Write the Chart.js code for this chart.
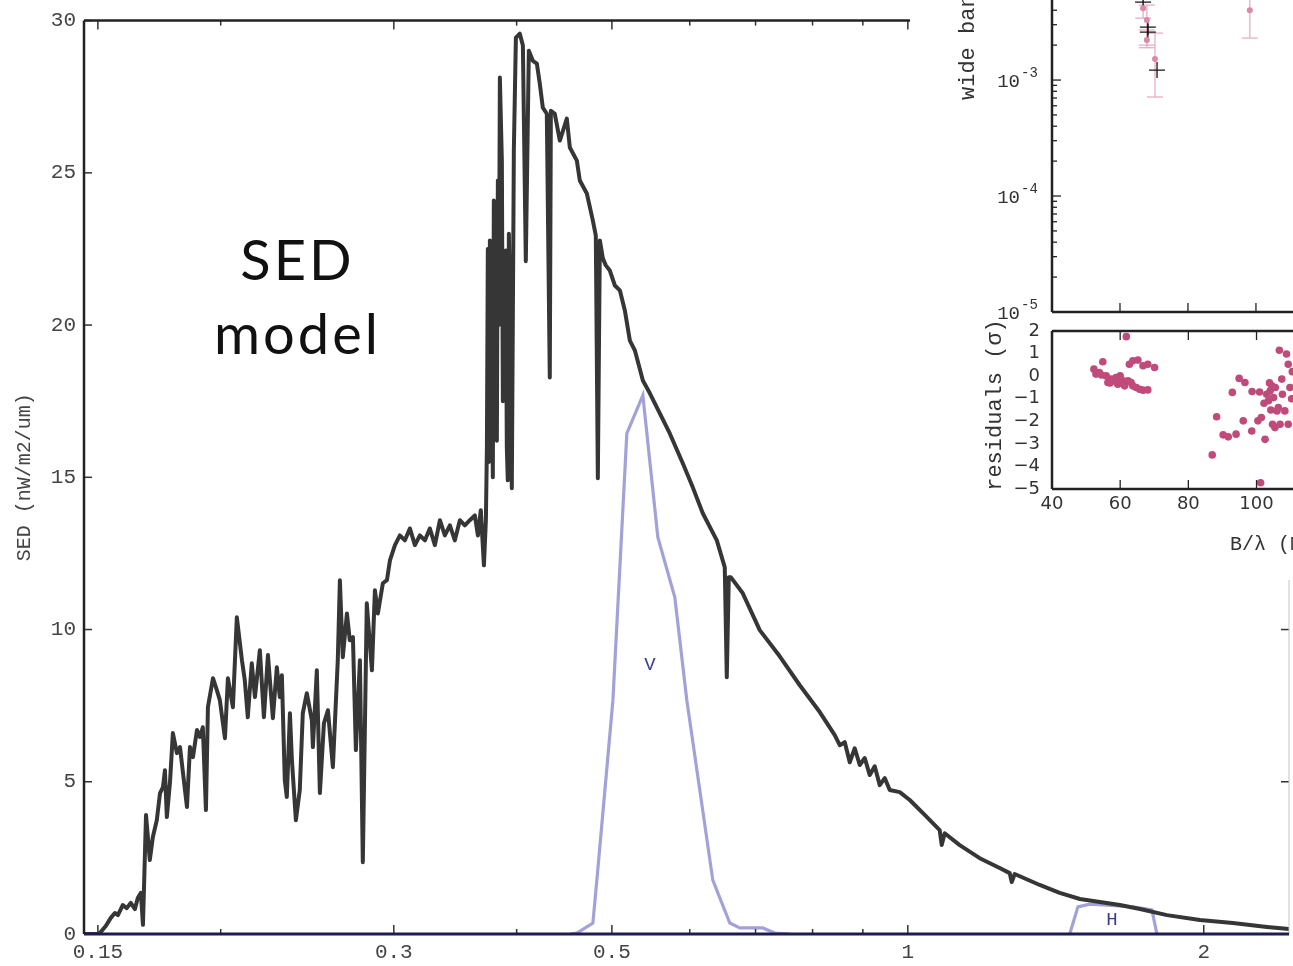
<!DOCTYPE html>
<html>
<head>
<meta charset="utf-8">
<title>SED model</title>
<script src="https://cdn.jsdelivr.net/npm/chart.js@4.4.1/dist/chart.umd.min.js"></script>
<style>
  html, body { margin: 0; padding: 0; background: #fff; overflow: hidden; }
  #page { position: relative; width: 1293px; height: 966px; }
  canvas { position: absolute; display: block; }
  #inset { position: absolute; left: 910px; top: 0; width: 383px; height: 580px; background: #fff; }
  #caption { position: absolute; left: 180px; top: 222px; width: 235px; text-align: center;
             font: 400 56px Lato, sans-serif; letter-spacing: 3px; line-height: 74px; color: #111; }
</style>
</head>
<body>
<div id="page">
  <canvas id="sedChart" width="1293" height="966" style="left:0;top:0"></canvas>
  <div id="caption">SED<br>model</div>
  <div id="inset">
    <canvas id="visChart" width="383" height="322" style="left:0;top:0"></canvas>
    <canvas id="resChart" width="383" height="290" style="left:0;top:290px"></canvas>
  </div>
</div>
<script>
// model spectrum, wavelength in um, flux in nW/m2/um
const sedWave = [0.1452,0.1500,0.1507,0.1528,0.1546,0.1561,0.1572,0.1590,0.1605,0.1620,
  0.1636,0.1647,0.1659,0.1667,0.1679,0.1694,0.1706,0.1722,0.1735,0.1747,
  0.1755,0.1763,0.1776,0.1788,0.1805,0.1818,0.1848,0.1861,0.1874,0.1892,
  0.1905,0.1918,0.1932,0.1941,0.1964,0.1982,0.1996,0.2020,0.2034,0.2058,
  0.2077,0.2102,0.2116,0.2131,0.2151,0.2167,0.2192,0.2213,0.2234,0.2260,
  0.2281,0.2297,0.2308,0.2324,0.2335,0.2352,0.2363,0.2385,0.2407,0.2424,
  0.2447,0.2476,0.2482,0.2505,0.2523,0.2547,0.2571,0.2601,0.2631,0.2644,
  0.2662,0.2688,0.2706,0.2726,0.2745,0.2771,0.2790,0.2816,0.2850,0.2870,
  0.2890,0.2924,0.2952,0.2973,0.3008,0.3043,0.3079,0.3115,0.3152,0.3189,
  0.3227,0.3264,0.3303,0.3342,0.3381,0.3421,0.3461,0.3502,0.3543,0.3585,
  0.3627,0.3653,0.3678,0.3705,0.3722,
  0.3731,0.3739,0.3748,0.3757,0.3766,0.3774,0.3783,0.3792,0.3801,0.3810,
  0.3819,0.3828,0.3837,0.3846,0.3864,0.3873,0.3882,0.3900,0.3909,0.3918,
  0.3928,0.3937,0.3946,0.3955,0.3974,0.3993,
  0.4030,0.4059,0.4087,0.4116,0.4155,0.4194,0.4223,0.4253,0.4293,0.4323,
  0.4334,0.4374,0.4426,0.4499,0.4531,0.4606,0.4638,0.4715,0.4782,0.4815,
  0.4838,0.4861,0.4895,0.4929,0.4976,0.5035,0.5094,0.5154,0.5215,0.5276,
  0.5376,0.5465,0.5594,0.5726,0.5903,0.6043,0.6186,0.6393,0.6513,0.6544,
  0.6575,0.6605,0.6794,0.7069,0.7408,0.7764,0.8136,0.8427,0.8526,0.8627,
  0.8728,0.8831,0.8935,0.9040,0.9147,0.9254,0.9363,0.9474,0.9585,0.9812,
  1.0045,1.0403,1.0775,1.0826,1.0902,1.1292,1.1834,1.2401,1.2695,1.2755,
  1.2844,1.3620,1.4273,1.4965,1.5683,1.6434,1.7223,1.8347,1.9821,2.1411,
  2.3195,2.442];
const sedFlux = [0,0,0.03,0.26,0.53,0.69,0.62,0.95,0.85,1.02,
  0.82,1.18,1.35,0.30,3.91,2.43,3.18,3.74,4.63,4.82,
  5.38,3.84,4.99,6.60,5.94,6.14,4.17,6.14,5.81,6.70,
  6.47,6.79,4.07,7.45,8.40,8.01,7.68,6.43,8.40,7.45,
  10.40,8.99,8.34,7.12,8.89,7.78,9.32,7.12,9.16,7.09,
  8.76,7.78,8.50,5.05,4.50,7.25,5.71,3.74,4.73,7.25,
  7.91,7.02,6.14,8.66,4.63,6.92,7.35,5.48,8.99,11.62,
  9.09,10.53,9.65,9.75,6.04,8.99,2.36,10.86,8.66,11.29,
  10.53,11.52,11.62,12.27,12.77,13.09,12.93,13.32,12.77,13.09,
  12.93,13.32,12.77,13.59,13.09,13.42,12.93,13.59,13.42,13.59,
  13.75,13.09,13.92,12.11,13.59,
  16.00,22.50,15.50,22.78,16.50,20.81,15.00,24.09,18.00,22.12,
  16.20,24.75,20.00,28.13,25.40,17.50,20.81,22.45,16.00,14.90,
  23.00,20.81,17.00,14.64,25.73,29.44,
  29.57,29.18,22.10,29.01,28.68,28.59,27.93,27.14,26.94,18.28,
  27.04,26.94,26.06,26.78,25.83,25.40,24.75,24.32,23.43,22.94,
  14.97,22.78,22.19,21.96,21.79,21.30,21.14,20.48,19.49,19.17,
  18.18,17.76,17.10,16.44,15.46,14.67,13.82,12.93,12.04,8.43,
  11.72,11.72,11.19,9.98,9.12,8.17,7.29,6.53,6.20,6.30,
  5.64,6.10,5.55,5.78,5.22,5.51,4.89,5.12,4.73,4.66,
  4.40,3.91,3.41,2.92,3.31,2.92,2.49,2.17,2.00,1.71,
  1.97,1.61,1.35,1.15,1.05,0.95,0.82,0.62,0.46,0.36,
  0.23,0.16];

// filter curves
const vWave = [0.4531,0.4606,0.4782,0.4827,0.5012,0.5178,0.5376,0.5568,0.5794,0.5959,0.6333,0.6590,0.6746,0.7119,0.7322,0.7588];
const vTrans = [0,0.03,0.36,1.77,7.68,16.44,17.69,13.03,11.06,7.68,1.77,0.36,0.20,0.20,0.03,0];
const hWave = [1.4612,1.4895,1.5320,1.5942,1.6943,1.7714,1.7922];
const hTrans = [0,0.89,0.98,0.95,0.89,0.79,0];
const bandNames = ['V', 'H'];
const bandLabelWave = [0.5465, 1.6128];
const bandLabelLevel = [8.83, 0.46];

const xTickValues = [0.15,0.2,0.3,0.4,0.5,0.6,0.7,0.8,0.9,1,2];
const xTickText = ['0.15','','0.3','','0.5','','','','','1','2'];

// visibility panel: pink = data with errors, black crosses = model
const visX = [66.8, 67.9, 67.9, 70.3, 98.2];
const visY = [4.17e-3, 3.29e-3, 2.21e-3, 1.52e-3, 4.0e-3];
const visLo = [3.42e-3, 2.0e-3, 1.9e-3, 7.14e-4, 2.3e-3];
const visHi = [5.5e-3, 4.43e-3, 2.7e-3, 2.54e-3, 6.0e-3];
const modelX = [66.8, 68.2, 68.2, 70.9];
const modelY = [4.7e-3, 2.86e-3, 2.59e-3, 1.22e-3];
const visDecades = [-3, -4, -5];

// residuals in sigma against B/lambda
const resX = [61.8,52.3,54.9,52.9,53.9,55.9,56.4,57.4,58.3,59.3,60.0,60.8,61.3,62.3,63.2,63.7,64.7,65.7,66.7,68.1,
  62.7,63.7,65.2,66.7,68.1,70.1,58.8,57.0,54.5,59.8,
  87.0,88.3,90.2,91.7,94.0,92.9,94.9,96.6,96.1,98.6,98.7,100.9,100.4,101.4,102.5,103.0,103.5,104.0,104.5,105.0,
  105.5,106.0,104.7,105.4,106.7,107.4,106.4,106.9,107.6,108.3,108.8,109.3,109.3,101.2,109.8,110.3,102.2,104.2,103.8,110.5];
const resY = [1.75,0.31,0.64,0.09,0.16,0.01,-0.28,-0.13,-0.21,-0.36,0.01,-0.21,-0.43,-0.21,-0.28,-0.43,-0.50,-0.58,-0.62,-0.61,
  0.53,0.68,0.71,0.46,0.53,0.38,-0.06,-0.30,0.05,-0.15,
  -3.49,-1.80,-2.60,-2.69,-2.57,-0.72,-0.10,-0.28,-1.98,-2.43,-0.68,-0.70,-1.98,-1.83,-2.80,-0.80,-1.09,-0.65,-0.43,-0.95,
  -0.50,-1.54,-2.13,-2.28,1.15,-0.13,-1.39,-2.13,-0.80,-1.54,0.98,0.53,-2.13,-4.72,-0.50,-1.00,-1.20,-1.50,-0.30,0.20];
const resXTicks = [40, 60, 80, 100];
const resYTicks = [-5, -4, -3, -2, -1, 0, 1, 2];

const MONO = '"Liberation Mono", "DejaVu Sans Mono", monospace';
const SANS = '"DejaVu Sans", sans-serif';

function pts(xs, ys) { return xs.map((x, i) => ({ x, y: ys[i] })); }

function line(ctx, x1, y1, x2, y2) {
  ctx.beginPath(); ctx.moveTo(x1, y1); ctx.lineTo(x2, y2); ctx.stroke();
}

// frame, inward ticks and band names for the SED plot
const sedFrame = {
  id: 'sedFrame',
  afterDraw(chart) {
    const { ctx, chartArea: a, scales: { x, y } } = chart;
    ctx.save();
    ctx.strokeStyle = '#333';
    ctx.lineWidth = 1.5;
    xTickValues.forEach((v, i) => {
      const px = x.getPixelForValue(v);
      const len = xTickText[i] ? 9 : 5;
      line(ctx, px, a.bottom, px, a.bottom - len);
      line(ctx, px, a.top, px, a.top + len);
    });
    y.ticks.forEach(t => {
      const py = y.getPixelForValue(t.value);
      line(ctx, a.left, py, a.left + 8, py);
      line(ctx, a.right, py, a.right - 8, py);
    });
    ctx.strokeStyle = '#222';
    ctx.lineWidth = 2.5;
    line(ctx, a.left, a.top, a.right, a.top);
    line(ctx, a.left, a.top, a.left, a.bottom);
    ctx.strokeStyle = '#c4c4c4';
    ctx.lineWidth = 1;
    line(ctx, a.right, a.top, a.right, a.bottom);
    ctx.strokeStyle = '#1d1d52';
    ctx.lineWidth = 3;
    line(ctx, a.left, a.bottom, a.right, a.bottom);

    ctx.fillStyle = '#3b3b8f';
    ctx.font = '19px ' + MONO;
    ctx.textAlign = 'center';
    ctx.textBaseline = 'middle';
    bandNames.forEach((n, i) => {
      ctx.fillText(n, x.getPixelForValue(bandLabelWave[i]), y.getPixelForValue(bandLabelLevel[i]));
    });
    ctx.restore();
  }
};

new Chart(document.getElementById('sedChart'), {
  type: 'line',
  data: {
    datasets: [
      { label: 'V', data: pts(vWave, vTrans), borderColor: '#a2a2d8', borderWidth: 3.2, pointRadius: 0, order: 2 },
      { label: 'H', data: pts(hWave, hTrans), borderColor: '#a2a2d8', borderWidth: 3.2, pointRadius: 0, order: 2 },
      { label: 'SED', data: pts(sedWave, sedFlux), borderColor: '#363636', borderWidth: 4,
        borderJoinStyle: 'round', borderCapStyle: 'round', pointRadius: 0, order: 1 }
    ]
  },
  options: {
    responsive: false,
    animation: false,
    layout: { autoPadding: false, padding: { top: 20, right: 4, left: 0, bottom: 0 } },
    plugins: { legend: { display: false }, tooltip: { enabled: false } },
    scales: {
      x: {
        type: 'logarithmic',
        min: 0.1452,
        max: 2.442,
        bounds: 'data',
        afterBuildTicks: s => { s.ticks = xTickValues.map(v => ({ value: v })); },
        afterFit: s => { s.height = 32; },
        ticks: {
          autoSkip: false, maxRotation: 0, padding: 6, color: '#444',
          font: { family: MONO, size: 21 },
          callback: (v, i) => xTickText[i]
        },
        grid: { display: false, drawTicks: false },
        border: { display: false }
      },
      y: {
        min: 0,
        max: 30,
        afterFit: s => { s.width = 84; },
        ticks: { stepSize: 5, padding: 8, color: '#444', font: { family: MONO, size: 21 } },
        grid: { display: false, drawTicks: false },
        border: { display: false },
        title: {
          display: true, text: 'SED (nW/m2/um)', color: '#444',
          font: { family: MONO, size: 20 }, padding: { top: 13, bottom: 0 }
        }
      }
    }
  },
  plugins: [sedFrame]
});

// error bars, log ticks and axis labels for the visibility panel
const visDecor = {
  id: 'visDecor',
  beforeDatasetsDraw(chart) {
    const { ctx, scales: { x, y } } = chart;
    ctx.save();
    ctx.strokeStyle = '#e8aec3';
    ctx.lineWidth = 1.3;
    visX.forEach((v, i) => {
      const px = x.getPixelForValue(v);
      const lo = y.getPixelForValue(visLo[i]);
      const hi = y.getPixelForValue(visHi[i]);
      line(ctx, px, lo, px, hi);
      line(ctx, px - 8, lo, px + 8, lo);
      line(ctx, px - 8, hi, px + 8, hi);
    });
    ctx.restore();
  },
  afterDraw(chart) {
    const { ctx, chartArea: a, scales: { x, y } } = chart;
    ctx.save();
    ctx.strokeStyle = '#222';
    ctx.lineWidth = 1.3;
    visDecades.forEach(d => {
      for (let m = 1; m <= 9; m++) {
        const v = m * Math.pow(10, d);
        if (v > y.max) break;
        const py = y.getPixelForValue(v);
        line(ctx, a.left, py, a.left + (m === 1 ? 9 : 5), py);
      }
    });
    resXTicks.slice(1).forEach(v => {
      const px = x.getPixelForValue(v);
      line(ctx, px, a.bottom, px, a.bottom - 9);
    });
    ctx.lineWidth = 2.5;
    line(ctx, a.left, a.top, a.left, a.bottom);
    line(ctx, a.left, a.bottom, a.right, a.bottom);

    ctx.fillStyle = '#333';
    visDecades.forEach(d => {
      const py = y.getPixelForValue(Math.pow(10, d));
      ctx.font = '19px ' + MONO;
      ctx.textAlign = 'right';
      ctx.textBaseline = 'middle';
      ctx.fillText('10', a.left - 32, py + 2);
      ctx.font = '14px ' + MONO;
      ctx.textAlign = 'left';
      ctx.fillText(String(d), a.left - 31, py - 7);
    });
    ctx.translate(58, 100);
    ctx.rotate(-Math.PI / 2);
    ctx.font = '22px ' + MONO;
    ctx.textAlign = 'left';
    ctx.textBaseline = 'middle';
    ctx.fillText('wide band V\u00b2', 0, 0);
    ctx.restore();
  }
};

new Chart(document.getElementById('visChart'), {
  type: 'scatter',
  data: {
    datasets: [
      { label: 'data', data: pts(visX, visY), backgroundColor: '#d98aa8', borderWidth: 0, pointRadius: 3 },
      { label: 'model', data: pts(modelX, modelY), pointStyle: 'cross', pointRadius: 8,
        borderColor: '#151515', borderWidth: 1.3 }
    ]
  },
  options: {
    responsive: false,
    animation: false,
    layout: { autoPadding: false, padding: 0 },
    plugins: { legend: { display: false }, tooltip: { enabled: false } },
    scales: {
      x: {
        type: 'linear', min: 40, max: 110.9, bounds: 'data',
        afterFit: s => { s.height = 10; },
        ticks: { display: false }, grid: { display: false, drawTicks: false }, border: { display: false }
      },
      y: {
        type: 'logarithmic', min: 1e-5, max: 4.9e-3, bounds: 'data',
        afterBuildTicks: s => { s.ticks = visDecades.map(d => ({ value: Math.pow(10, d) })); },
        afterFit: s => { s.width = 142; },
        ticks: { display: false }, grid: { display: false, drawTicks: false }, border: { display: false }
      }
    }
  },
  plugins: [visDecor]
});

// frame and labels for the residual panel
const resDecor = {
  id: 'resDecor',
  afterDraw(chart) {
    const { ctx, chartArea: a, scales: { x, y } } = chart;
    ctx.save();
    ctx.strokeStyle = '#222';
    ctx.lineWidth = 1.3;
    resXTicks.slice(1).forEach(v => {
      const px = x.getPixelForValue(v);
      line(ctx, px, a.bottom, px, a.bottom - 9);
      line(ctx, px, a.top, px, a.top + 9);
    });
    ctx.lineWidth = 2.5;
    line(ctx, a.left, a.top, a.right, a.top);
    line(ctx, a.left, a.top, a.left, a.bottom);
    line(ctx, a.left, a.bottom, a.right, a.bottom);

    ctx.fillStyle = '#333';
    ctx.font = '20px ' + MONO;
    ctx.textAlign = 'left';
    ctx.textBaseline = 'middle';
    ctx.fillText('B/\u03bb (M\u03bb)', 320, 255);
    ctx.translate(85, 115);
    ctx.rotate(-Math.PI / 2);
    ctx.font = '22px ' + MONO;
    ctx.textAlign = 'center';
    ctx.fillText('residuals (\u03c3)', 0, 0);
    ctx.restore();
  }
};

new Chart(document.getElementById('resChart'), {
  type: 'scatter',
  data: {
    datasets: [
      { label: 'residuals', data: pts(resX, resY), backgroundColor: '#c04a7a', borderWidth: 0, pointRadius: 3.8 }
    ]
  },
  options: {
    responsive: false,
    animation: false,
    layout: { autoPadding: false, padding: { top: 41, left: 0, right: 0, bottom: 0 } },
    plugins: { legend: { display: false }, tooltip: { enabled: false } },
    scales: {
      x: {
        type: 'linear', min: 40, max: 110.7, bounds: 'data',
        afterBuildTicks: s => { s.ticks = resXTicks.map(v => ({ value: v })); },
        afterFit: s => { s.height = 91; },
        ticks: { autoSkip: false, maxRotation: 0, padding: 5, color: '#333', font: { family: SANS, size: 18 } },
        grid: { display: false, drawTicks: false }, border: { display: false }
      },
      y: {
        min: -5, max: 2, bounds: 'data',
        afterBuildTicks: s => { s.ticks = resYTicks.map(v => ({ value: v })); },
        afterFit: s => { s.width = 142; },
        ticks: {
          autoSkip: false, padding: 12, color: '#333', font: { family: SANS, size: 18 },
          callback: v => (v < 0 ? '\u2212' + (-v) : String(v))
        },
        grid: { display: false, drawTicks: false }, border: { display: false }
      }
    }
  },
  plugins: [resDecor]
});
</script>
</body>
</html>
